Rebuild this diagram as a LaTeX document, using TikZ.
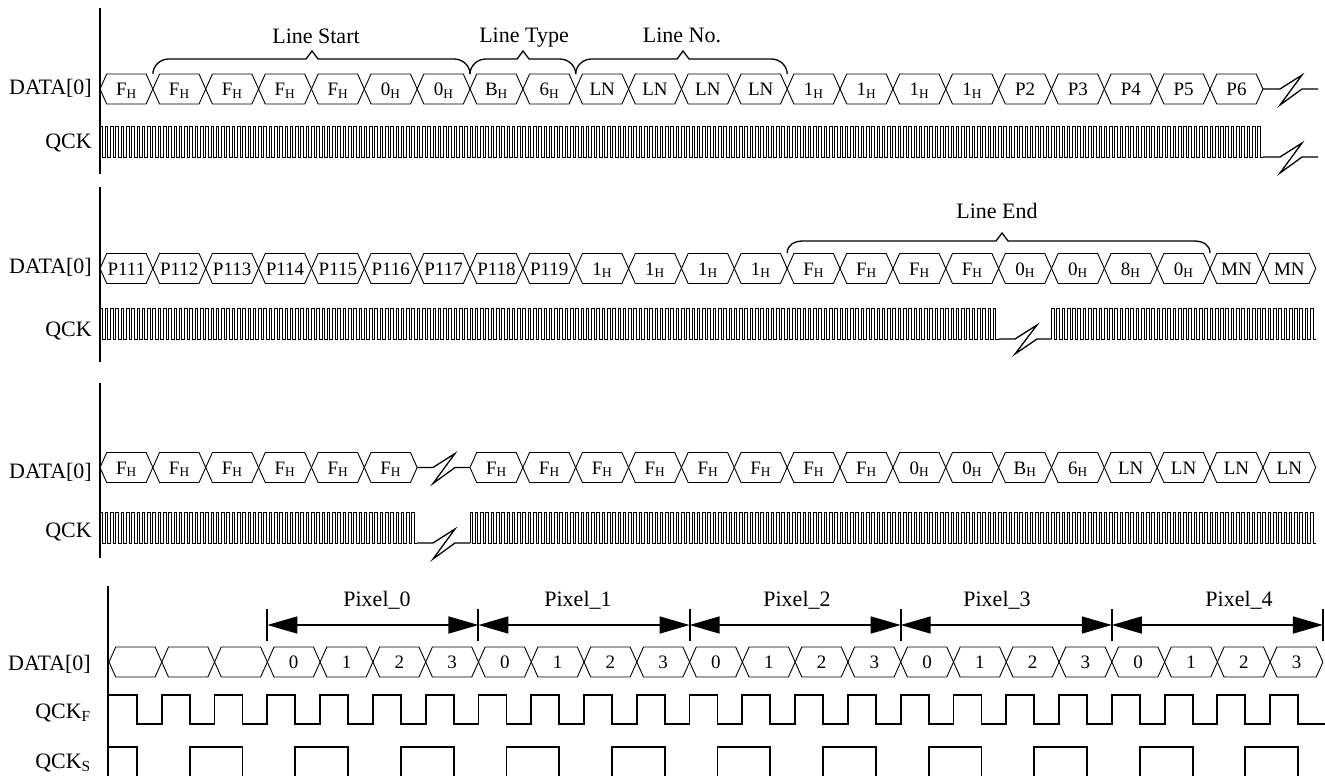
\documentclass[tikz,border=0pt]{standalone}
\usepackage{fontspec}
\setmainfont{Liberation Serif}
\usetikzlibrary{arrows.meta}
\newcommand\hx[1]{#1\textsubscript{H}}
\tikzset{
  hexline/.style={line width=0.9pt, line join=miter},
  celltext/.style={font=\fontsize{19}{22}\selectfont, anchor=base, inner sep=0pt},
  lab/.style={font=\fontsize{22}{26}\selectfont, inner sep=0pt},
  clkline/.style={line width=1pt},
  breakline/.style={line width=1.3pt},
  sigline/.style={line width=1.8pt},
  axisline/.style={line width=2pt},
  braceline/.style={line width=1.3pt},
  tickline/.style={line width=2pt},
  dimarrow/.style={line width=1.5pt, {Triangle[length=30pt,width=17pt]}-{Triangle[length=30pt,width=17pt]}}
}
% prefix, x start, y centre, cell width, labels
\newcommand\hexcells[5]{%
  \foreach \lab [count=\k from 0] in {#5} {%
    \pgfmathsetmacro\xa{#2+\k*#4}%
    \pgfmathsetmacro\xb{\xa+#4}%
    \pgfmathsetmacro\xm{(\xa+\xb)/2}%
    \draw[hexline] (\xa,#3) -- (\xa+6.7,#3-15) -- (\xb-6.7,#3-15) -- (\xb,#3) -- (\xb-6.7,#3+15) -- (\xa+6.7,#3+15) -- cycle;
    \node[celltext] (#1\k) at (\xm,#3+6.5) {\lab};
  }%
}
% x start, y low, cycles, half period
\newcommand\clocktrain[4]{%
  \draw[clkline] (#1,#2) \foreach \i in {1,...,#3} { -- ++(0,-31) -- ++(#4,0) -- ++(0,31) -- ++(#4,0) };
}
% xa, xb, xm, ybottom, ytop, ytip
\newcommand\bracepath[6]{%
  \draw[braceline] (#1,#4) .. controls (#1,#4-8) and (#1+7,#5) .. (#1+16,#5) -- (#3-6,#5) -- (#3,#6) -- (#3+6,#5) -- (#2-16,#5) .. controls (#2-7,#5) and (#2,#4-8) .. (#2,#4);
}
\begin{document}
\begin{tikzpicture}[x=1pt,y=-1pt]
\useasboundingbox (0,0) rectangle (1325,776);
\clip (0,0) rectangle (1325,776);
\fill[white] (0,0) rectangle (1325,776);

% ---------- Panel 1 ----------
\draw[axisline] (100,8) -- (100,174);
\node[lab, anchor=base east] (p1data) at (92,94) {DATA[0]};
\node[lab, anchor=base east] (p1qck) at (92,148) {QCK};
\hexcells{a}{100}{89}{52.86}{\hx{F},\hx{F},\hx{F},\hx{F},\hx{F},\hx{0},\hx{0},\hx{B},\hx{6},LN,LN,LN,LN,\hx{1},\hx{1},\hx{1},\hx{1},P2,P3,P4,P5,P6}
\draw[breakline] (1262.9,89) -- (1280,89) -- (1302,75) -- (1280,105) -- (1302,89) -- (1318,89);
\clocktrain{100}{157}{220}{2.643}
\draw[breakline] (1262.9,157) -- (1280,157) -- (1302,143) -- (1280,173) -- (1302,157) -- (1318,157);
\bracepath{152.9}{470}{312}{74}{59}{51}
\bracepath{470}{575.7}{523}{74}{59}{51}
\bracepath{575.7}{787.2}{683}{74}{59}{51}
\node[lab, anchor=base] (lstart) at (316,44) {Line Start};
\node[lab, anchor=base] (ltype) at (524,43) {Line Type};
\node[lab, anchor=base] (lno) at (682,43) {Line No.};

% ---------- Panel 2 ----------
\draw[axisline] (100,187) -- (100,362);
\node[lab, anchor=base east] (p2data) at (92,273) {DATA[0]};
\node[lab, anchor=base east] (p2qck) at (92,336) {QCK};
\hexcells{b}{100}{268.5}{52.86}{P111,P112,P113,P114,P115,P116,P117,P118,P119,\hx{1},\hx{1},\hx{1},\hx{1},\hx{F},\hx{F},\hx{F},\hx{F},\hx{0},\hx{0},\hx{8},\hx{0},MN,MN}
\clocktrain{100}{339}{170}{2.643}
\draw[breakline] (998.6,339) -- (1015,339) -- (1037,325) -- (1015,354) -- (1037,339) -- (1051.5,339);
\clocktrain{1051.5}{339}{50}{2.643}
\bracepath{787.2}{1210}{1002}{253}{241}{233}
\node[lab, anchor=base] (lend) at (997,218) {Line End};

% ---------- Panel 3 ----------
\draw[axisline] (100,383) -- (100,558);
\node[lab, anchor=base east] (p3data) at (92,478) {DATA[0]};
\node[lab, anchor=base east] (p3qck) at (92,537) {QCK};
\hexcells{c}{100}{467.5}{52.86}{\hx{F},\hx{F},\hx{F},\hx{F},\hx{F},\hx{F}}
\draw[breakline] (417.2,467.5) -- (433,467.5) -- (455,453.5) -- (433,483.5) -- (455,467.5) -- (470,467.5);
\hexcells{d}{470}{467.5}{52.86}{\hx{F},\hx{F},\hx{F},\hx{F},\hx{F},\hx{F},\hx{F},\hx{F},\hx{0},\hx{0},\hx{B},\hx{6},LN,LN,LN,LN}
\clocktrain{100}{543}{60}{2.643}
\draw[breakline] (417.2,543) -- (433,543) -- (455,529) -- (433,559) -- (455,543) -- (470,543);
\clocktrain{470}{543}{160}{2.643}

% ---------- Panel 4 ----------
\draw[axisline] (108,586) -- (108,776);
\node[lab, anchor=base east] (p4data) at (91,670) {DATA[0]};
\node[lab, anchor=base east] (p4qf) at (91,718) {QCK\textsubscript{F}};
\node[lab, anchor=base east] (p4qs) at (91,768) {QCK\textsubscript{S}};
\hexcells{e}{109}{662}{52.78}{{},{},{},0,1,2,3,0,1,2,3,0,1,2,3,0,1,2,3,0,1,2,3}
\draw[sigline] (108,695) \foreach \k in {0,...,21} { -- ({109+\k*52.78+28},695) -- ({109+\k*52.78+28},724) -- ({109+(\k+1)*52.78},724) -- ({109+(\k+1)*52.78},695) } -- (1298.2,695) -- (1298.2,724) -- (1330,724);
\draw[sigline] (108,747) \foreach \j in {0,...,10} { -- ({109+2*\j*52.78+28},747) -- ({109+2*\j*52.78+28},790) -- ({109+(2*\j+1)*52.78+28},790) -- ({109+(2*\j+1)*52.78+28},747) } -- (1298.2,747) -- (1298.2,790) -- (1330,790);
\foreach \i in {0,...,5} {
  \coordinate (t\i) at ({109+(3+4*\i)*52.78},625);
  \draw[tickline] (t\i) ++(0,-16) -- ++(0,32);
}
\foreach \i/\j in {0/1,1/2,2/3,3/4,4/5} \draw[dimarrow] (t\i) -- (t\j);
\node[lab, anchor=base] (px0) at (377,606) {Pixel\_0};
\node[lab, anchor=base] (px1) at (578,606) {Pixel\_1};
\node[lab, anchor=base] (px2) at (797,606) {Pixel\_2};
\node[lab, anchor=base] (px3) at (997,606) {Pixel\_3};
\node[lab, anchor=base] (px4) at (1239,606) {Pixel\_4};
\end{tikzpicture}
\end{document}
